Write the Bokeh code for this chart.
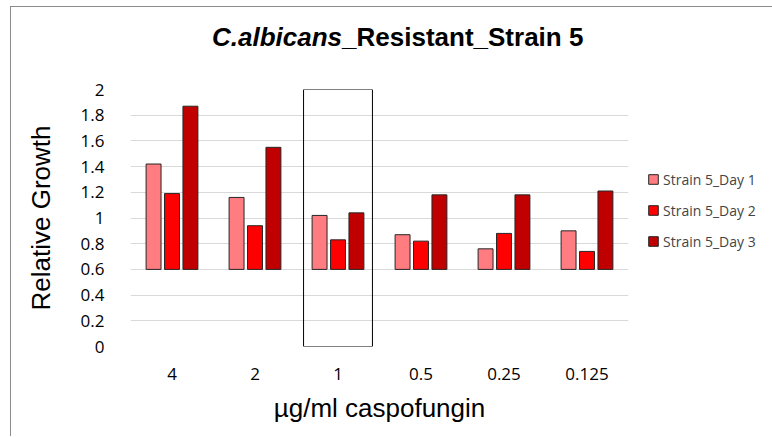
from bokeh.plotting import figure
from bokeh.models import (ColumnDataSource, FactorRange, Range1d, FixedTicker, Legend,
                          LegendItem, Div)
from bokeh.layouts import column
from bokeh.transform import dodge
from bokeh.embed import file_html
from bokeh.resources import INLINE

# ---- data ----
concentrations = ["4", "2", "1", "0.5", "0.25", "0.125"]
day1 = [1.42, 1.16, 1.02, 0.87, 0.76, 0.90]
day2 = [1.19, 0.94, 0.83, 0.82, 0.88, 0.74]
day3 = [1.87, 1.55, 1.04, 1.18, 1.18, 1.21]
series_names = ["Strain 5_Day 1", "Strain 5_Day 2", "Strain 5_Day 3"]
y_ticks = [0, 0.2, 0.4, 0.6, 0.8, 1.0, 1.2, 1.4, 1.6, 1.8, 2.0]
y_tick_labels = ["0", "0.2", "0.4", "0.6", "0.8", "1", "1.2", "1.4", "1.6", "1.8", "2"]
axis_cross = 0.6          # horizontal axis crosses the value axis here
highlight = "1"           # boxed category
title_italic = "C.albicans"
title_rest = "_Resistant_Strain 5"

colors = ["#ff7c80", "#ff0000", "#c00000"]

src = ColumnDataSource(dict(conc=concentrations, d1=day1, d2=day2, d3=day3,
                            base=[axis_cross] * len(concentrations)))

TITLE_H = 60
title_div = Div(text=f'<span style="font-style:italic">{title_italic}</span>{title_rest}',
                width=760, height=TITLE_H, margin=0,
                styles={"font-family": "'Liberation Sans', Arial, sans-serif",
                        "font-weight": "bold", "font-size": "26px", "color": "black",
                        "line-height": f"{TITLE_H}px", "padding-left": "201px",
                        "white-space": "nowrap", "background": "white"})

p = figure(x_range=FactorRange(*concentrations), y_range=Range1d(0, 2.0),
           frame_width=498, frame_height=257, output_backend="svg",
           toolbar_location=None)
p.min_border_left = 119
p.min_border_top = 22
p.min_border_right = 143
p.min_border_bottom = 90
p.outline_line_color = None
p.background_fill_color = "white"
p.border_fill_color = "white"
p.margin = 0

# grid
p.xgrid.grid_line_color = None
p.ygrid.grid_line_color = "#d9d9d9"
p.ygrid.grid_line_width = 1.2
p.ygrid.ticker = FixedTicker(ticks=y_ticks)

# highlight box around one category
p.rect(x=[highlight], y=[(y_ticks[0] + y_ticks[-1]) / 2], width=0.83,
       height=y_ticks[-1] - y_ticks[0], fill_color=None, line_color="black", line_width=1)

bw = 0.18
renderers = []
for i, (col, c) in enumerate(zip(["d1", "d2", "d3"], colors)):
    r = p.vbar(x=dodge("conc", (i - 1) * 0.222, range=p.x_range), top=col, bottom="base",
               width=bw, source=src, fill_color=c, line_color="#262626", line_width=1)
    renderers.append(r)

# axes
p.yaxis.ticker = FixedTicker(ticks=y_ticks)
p.yaxis.major_label_overrides = {t: l for t, l in zip(y_ticks, y_tick_labels)}
for ax in (p.xaxis[0], p.yaxis[0]):
    ax.axis_line_color = None
    ax.major_tick_line_color = None
    ax.minor_tick_line_color = None
    ax.major_label_text_font = "Open Sans"
    ax.major_label_text_font_size = "17px"
    ax.major_label_text_color = "#000000"
    ax.axis_label_text_font = "Liberation Sans"
    ax.axis_label_text_font_size = "26px"
    ax.axis_label_text_font_style = "normal"
    ax.axis_label_text_color = "#000000"
p.yaxis.major_label_standoff = 20
p.xaxis.major_label_standoff = 15
p.yaxis.axis_label = "Relative Growth"
p.xaxis.axis_label = "µg/ml caspofungin"
p.yaxis.axis_label_standoff = 22
p.xaxis.axis_label_standoff = 10

# legend
legend = Legend(items=[LegendItem(label=n, renderers=[r]) for n, r in zip(series_names, renderers)],
                location=(19, 95), orientation="vertical")
legend.label_text_font = "Open Sans"
legend.label_text_font_size = "14px"
legend.glyph_width = 12
legend.glyph_height = 12
legend.label_height = 20
legend.spacing = 11
legend.padding = 0
legend.margin = 0
legend.label_standoff = 4
legend.border_line_color = None
legend.background_fill_alpha = 0
p.add_layout(legend, "right")

layout = column(title_div, p, spacing=0,
                styles={"border-left": "1px solid #8c8c8c", "border-top": "1px solid #8c8c8c",
                        "margin-left": "10px", "margin-top": "6px", "background": "white"})

html = file_html(layout, INLINE)
open("out.html", "w").write(html)
